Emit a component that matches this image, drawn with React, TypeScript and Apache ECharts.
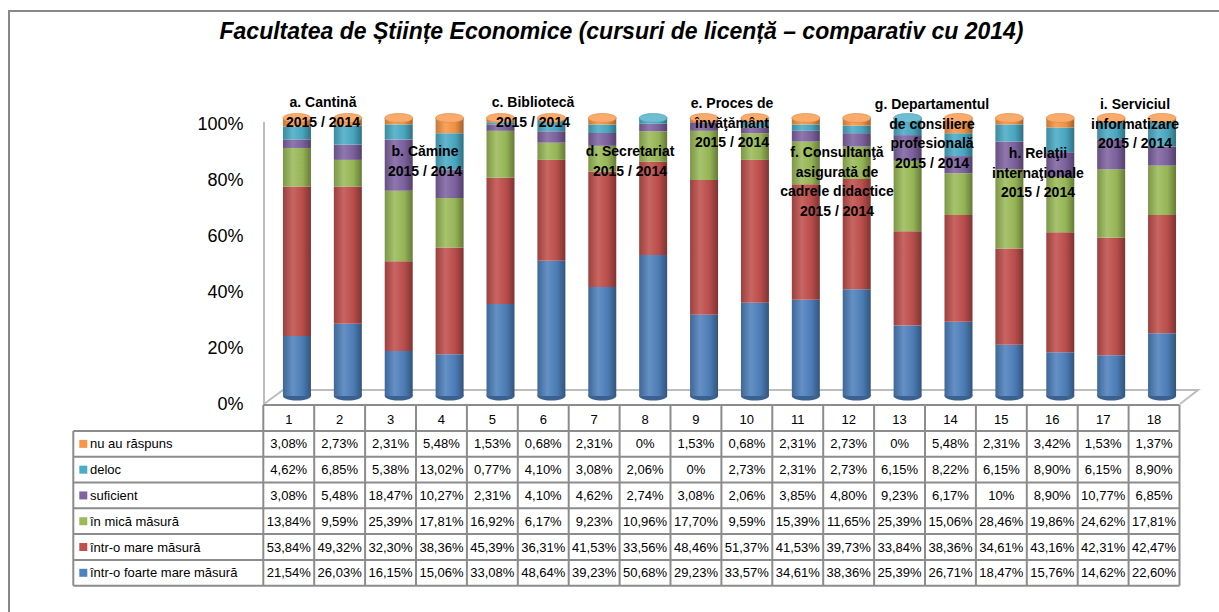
import React, { useEffect, useRef } from "react";
import * as echarts from "echarts";

const categories = ["1", "2", "3", "4", "5", "6", "7", "8", "9", "10", "11", "12", "13", "14", "15", "16", "17", "18"];

const foarteMare = [21.54, 26.03, 16.15, 15.06, 33.08, 48.64, 39.23, 50.68, 29.23, 33.57, 34.61, 38.36, 25.39, 26.71, 18.47, 15.76, 14.62, 22.6];
const mare = [53.84, 49.32, 32.3, 38.36, 45.39, 36.31, 41.53, 33.56, 48.46, 51.37, 41.53, 39.73, 33.84, 38.36, 34.61, 43.16, 42.31, 42.47];
const mica = [13.84, 9.59, 25.39, 17.81, 16.92, 6.17, 9.23, 10.96, 17.7, 9.59, 15.39, 11.65, 25.39, 15.06, 28.46, 19.86, 24.62, 17.81];
const suficient = [3.08, 5.48, 18.47, 10.27, 2.31, 4.1, 4.62, 2.74, 3.08, 2.06, 3.85, 4.8, 9.23, 6.17, 10, 8.9, 10.77, 6.85];
const deloc = [4.62, 6.85, 5.38, 13.02, 0.77, 4.1, 3.08, 2.06, 0, 2.73, 2.31, 2.73, 6.15, 8.22, 6.15, 8.9, 6.15, 8.9];
const nuAuRaspuns = [3.08, 2.73, 2.31, 5.48, 1.53, 0.68, 2.31, 0, 1.53, 0.68, 2.31, 2.73, 0, 5.48, 2.31, 3.42, 1.53, 1.37];

const seriesNames = [
  "într-o foarte mare măsură",
  "într-o mare măsură",
  "în mică măsură",
  "suficient",
  "deloc",
  "nu au răspuns",
];
const seriesData = [foarteMare, mare, mica, suficient, deloc, nuAuRaspuns];
const seriesColors = ["#4F81BD", "#C0504D", "#9BBB59", "#8064A2", "#4BACC6", "#F79646"];

const title = "Facultatea de Științe Economice (cursuri de licență – comparativ cu 2014)";

const groupLabels: string[][] = [
  ["a. Cantină", "2015 / 2014"],
  ["b. Cămine", "2015 / 2014"],
  ["c. Bibliotecă", "2015 / 2014"],
  ["d. Secretariat", "2015 / 2014"],
  ["e. Proces de", "învăţământ", "2015 / 2014"],
  ["f. Consultanţă", "asigurată de", "cadrele didactice", "2015 / 2014"],
  ["g. Departamentul", "de consiliere", "profesională", "2015 / 2014"],
  ["h. Relaţii", "internaţionale", "2015 / 2014"],
  ["i. Serviciul", "informatizare", "2015 / 2014"],
];
// layout (pixel positions of the group captions: center x, first line y)
const groupPos: number[][] = [
  [323, 102], [425, 151], [533, 102], [630, 151], [732, 103],
  [837, 152], [932, 104], [1038, 153], [1135, 104],
];

const FONT = '"Liberation Sans", Arial, sans-serif';

function shade(hex: string, f: number): string {
  const n = parseInt(hex.slice(1), 16);
  let r = (n >> 16) & 255, g = (n >> 8) & 255, b = n & 255;
  const t = f < 0 ? 0 : 255;
  const p = Math.abs(f);
  r = Math.round(r + (t - r) * p);
  g = Math.round(g + (t - g) * p);
  b = Math.round(b + (t - b) * p);
  return "#" + ((1 << 24) | (r << 16) | (g << 8) | b).toString(16).slice(1);
}

function cyl(c: string) {
  return {
    type: "linear", x: 0, y: 0, x2: 1, y2: 0,
    colorStops: [
      { offset: 0, color: shade(c, -0.2) },
      { offset: 0.35, color: shade(c, 0.12) },
      { offset: 0.7, color: shade(c, -0.04) },
      { offset: 1, color: shade(c, -0.35) },
    ],
  };
}

function fmt(v: number): string {
  if (Number.isInteger(v)) return v + "%";
  return v.toFixed(2).replace(".", ",") + "%";
}

export default function App() {
  const ref = useRef<HTMLDivElement>(null);
  useEffect(() => {
    if (!ref.current) return;
    const chart = echarts.init(ref.current, null, { renderer: "svg" });

    const gridLeft = 271.5;
    const gridWidth = 916;
    const totals = categories.map((_, i) => seriesData.reduce((s, arr) => s + arr[i], 0));
    const topIdx = categories.map((_, i) => {
      let k = 0;
      seriesData.forEach((arr, j) => { if (arr[i] > 0) k = j; });
      return k;
    });

    const graphic: any[] = [];
    // outer frame
    graphic.push({ type: "polyline", shape: { points: [[9, 640], [9, 11], [1240, 11]] }, style: { stroke: "#878787", lineWidth: 2, fill: null }, silent: true });
    // title
    graphic.push({
      type: "text", x: 621.5, y: 31,
      style: { text: title, font: `italic bold 23px ${FONT}`, fill: "#000", textAlign: "center", textVerticalAlign: "middle", align: "center", verticalAlign: "middle" },
    });
    // 3D wall/floor outline
    graphic.push({ type: "line", shape: { x1: 264, y1: 122, x2: 264, y2: 404 }, style: { stroke: "#bdbdbd", lineWidth: 2 }, z: 0 });
    graphic.push({ type: "polyline", shape: { points: [[264, 404], [283, 390], [1198, 390], [1180, 404]] }, style: { stroke: "#bdbdbd", lineWidth: 2, fill: null }, z: 0 });

    // group captions
    groupLabels.forEach((lines, gi) => {
      lines.forEach((t, li) => {
        graphic.push({
          type: "text", x: groupPos[gi][0], y: groupPos[gi][1] + li * 19.5, z: 100,
          style: { text: t, font: `bold 14px ${FONT}`, fill: "#000", textAlign: "center", textVerticalAlign: "middle", align: "center", verticalAlign: "middle" },
        });
      });
    });

    // data table
    const tx0 = 263.3, colW = 50.9, hy0 = 405, ry0 = 431, rowH = 25.78, lx0 = 73.3;
    const nRows = seriesNames.length;
    const tx1 = tx0 + colW * categories.length;
    const ry1 = ry0 + rowH * nRows;
    const lineStyle = { stroke: "#8c8c8c", lineWidth: 2 };
    graphic.push({ type: "line", shape: { x1: tx0, y1: hy0, x2: tx1, y2: hy0 }, style: lineStyle });
    for (let r = 0; r <= nRows; r++) {
      const y = ry0 + r * rowH;
      graphic.push({ type: "line", shape: { x1: lx0, y1: y, x2: tx1, y2: y }, style: lineStyle });
    }
    graphic.push({ type: "line", shape: { x1: lx0, y1: ry0, x2: lx0, y2: ry1 }, style: lineStyle });
    for (let c = 0; c <= categories.length; c++) {
      const x = tx0 + c * colW;
      graphic.push({ type: "line", shape: { x1: x, y1: hy0, x2: x, y2: ry1 }, style: lineStyle });
    }
    categories.forEach((cat, c) => {
      graphic.push({
        type: "text", x: tx0 + (c + 0.5) * colW, y: (hy0 + ry0) / 2 + 1,
        style: { text: cat, font: `13px ${FONT}`, fill: "#000", textAlign: "center", textVerticalAlign: "middle", align: "center", verticalAlign: "middle" },
      });
    });
    for (let r = 0; r < nRows; r++) {
      const si = nRows - 1 - r;
      const yc = ry0 + (r + 0.5) * rowH;
      graphic.push({ type: "rect", shape: { x: 79.3, y: yc - 4, width: 8, height: 8 }, style: { fill: seriesColors[si] } });
      graphic.push({
        type: "text", x: 90, y: yc,
        style: { text: seriesNames[si], font: `13px ${FONT}`, fill: "#000", textAlign: "left", textVerticalAlign: "middle", align: "left", verticalAlign: "middle" },
      });
      seriesData[si].forEach((v, c) => {
        graphic.push({
          type: "text", x: tx0 + (c + 0.5) * colW, y: yc,
          style: { text: fmt(v), font: `13px ${FONT}`, fill: "#000", textAlign: "center", textVerticalAlign: "middle", align: "center", verticalAlign: "middle" },
        });
      });
    }

    const barSeries = seriesData.map((arr, j) => ({
      name: seriesNames[j],
      type: "bar",
      stack: "all",
      barWidth: 28,
      xAxisIndex: 0,
      yAxisIndex: 0,
      data: arr,
      z: 5,
      itemStyle: { color: cyl(seriesColors[j]) },
    }));

    const option: any = {
      animation: false,
      backgroundColor: "#ffffff",
      grid: [
        { left: gridLeft, width: gridWidth, top: 118, bottom: 612 - 396 },
        { left: gridLeft, width: gridWidth, top: 124, bottom: 612 - 404 },
      ],
      xAxis: [
        { type: "category", data: categories, gridIndex: 0, show: false },
        { type: "category", data: categories, gridIndex: 1, show: false },
      ],
      yAxis: [
        { type: "value", min: 0, max: 100, gridIndex: 0, show: false },
        {
          type: "value", min: 0, max: 100, interval: 20, gridIndex: 1,
          axisLine: { show: false }, axisTick: { show: false }, splitLine: { show: false },
          axisLabel: { formatter: "{value}%", fontSize: 18, fontFamily: FONT, color: "#000", margin: 28 },
        },
      ],
      graphic,
      series: [
        {
          type: "custom",
          xAxisIndex: 0, yAxisIndex: 0,
          z: 2,
          data: categories.map((_, i) => [i, 0]),
          renderItem: (params: any, api: any) => {
            const p = api.coord([api.value(0), api.value(1)]);
            return {
              type: "ellipse",
              shape: { cx: p[0], cy: p[1], rx: 14, ry: 4.5 },
              style: { fill: shade(seriesColors[0], -0.25) },
            };
          },
        },
        ...barSeries,
        {
          type: "custom",
          xAxisIndex: 0, yAxisIndex: 0,
          z: 10,
          data: categories.map((_, i) => [i, totals[i], topIdx[i]]),
          renderItem: (params: any, api: any) => {
            const p = api.coord([api.value(0), api.value(1)]);
            const c = seriesColors[api.value(2)];
            return {
              type: "ellipse",
              shape: { cx: p[0], cy: p[1], rx: 14, ry: 4.5 },
              style: { fill: shade(c, 0.2), stroke: shade(c, -0.1), lineWidth: 0.6 },
            };
          },
        },
      ],
    };
    chart.setOption(option);
    return () => chart.dispose();
  }, []);
  return (
    <div
      ref={ref}
      style={{ position: "fixed", left: 0, top: 0, width: 1219, height: 612, background: "#fff" }}
    />
  );
}
